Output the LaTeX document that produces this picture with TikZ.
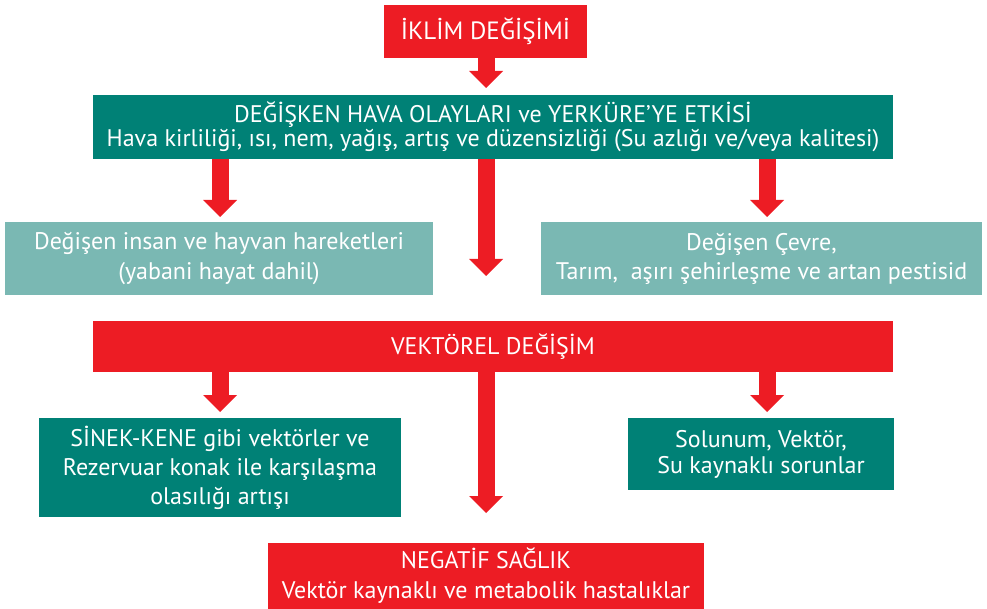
\documentclass[tikz,border=0pt]{standalone}
\usepackage{fontspec}
\setmainfont{PT Sans}
\usetikzlibrary{arrows.meta}
\definecolor{cred}{HTML}{ED1C24}
\definecolor{cteal}{HTML}{008176}
\definecolor{clight}{HTML}{7AB8B3}
\begin{document}
\begin{tikzpicture}[x=1pt,y=-1pt,
  box/.style={anchor=north west, inner sep=0pt, outer sep=0pt, text=white, align=center},
  redbox/.style={box, fill=cred},
  tealbox/.style={box, fill=cteal},
  lightbox/.style={box, fill=clight},
  fat/.style={draw=cred, line width=17pt, -{Triangle[width=34pt,length=17pt,line width=0pt]}},
  fs/.style={font=\fontsize{24}{#1}\selectfont}
]
\useasboundingbox (0,0) rectangle (987,609);
% boxes
\node[redbox, font=\fontsize{25}{25}\selectfont, minimum width=203pt, minimum height=53pt] (iklim) at (384,5) {İKLİM DEĞİŞİMİ};
\node[tealbox, fs=24, minimum width=800pt, minimum height=64pt] (hava) at (93,95)
  {DEĞİŞKEN HAVA OLAYLARI ve YERKÜRE’YE ETKİSİ\\Hava kirliliği, ısı, nem, yağış, artış ve düzensizliği (Su azlığı ve/veya kalitesi)};
\node[lightbox, fs=30, minimum width=428pt, minimum height=73pt] (insan) at (5,222)
  {Değişen insan ve hayvan hareketleri\\(yabani hayat dahil)};
\node[lightbox, fs=29, minimum width=441pt, minimum height=73pt] (cevre) at (541,222)
  {Değişen Çevre,\\Tarım,\ \ aşırı şehirleşme ve artan pestisid};
\node[redbox, fs=24, minimum width=800pt, minimum height=51pt] (vektorel) at (93,321) {VEKTÖREL DEĞİŞİM};
\node[tealbox, fs=29, minimum width=362pt, minimum height=99pt] (sinek) at (39,418)
  {SİNEK-KENE gibi vektörler ve\\Rezervuar konak ile karşılaşma\\olasılığı artışı};
\node[tealbox, fs=26, minimum width=266pt, minimum height=72pt] (solunum) at (628,418)
  {Solunum, Vektör,\\Su kaynaklı sorunlar};
\node[redbox, fs=30, minimum width=436pt, minimum height=66pt] (negatif) at (268,543)
  {NEGATİF SAĞLIK\\Vektör kaynaklı ve metabolik hastalıklar};
% arrow columns and free ends
\coordinate (xl) at (220,0);
\coordinate (xc) at (486,0);
\coordinate (xr) at (767,0);
\coordinate (endA) at (486,276);
\coordinate (endB) at (486,513);
% arrows
\draw[fat] (iklim.south -| xc) -- ([yshift=7pt]hava.north -| xc);
\draw[fat] (hava.south -| xl) -- ([yshift=5pt]insan.north -| xl);
\draw[fat] (hava.south -| xc) -- (endA);
\draw[fat] (hava.south -| xr) -- ([yshift=5pt]cevre.north -| xr);
\draw[fat] (vektorel.south -| xl) -- ([yshift=6pt]sinek.north -| xl);
\draw[fat] (vektorel.south -| xc) -- (endB);
\draw[fat] (vektorel.south -| xr) -- ([yshift=6pt]solunum.north -| xr);
\end{tikzpicture}
\end{document}
